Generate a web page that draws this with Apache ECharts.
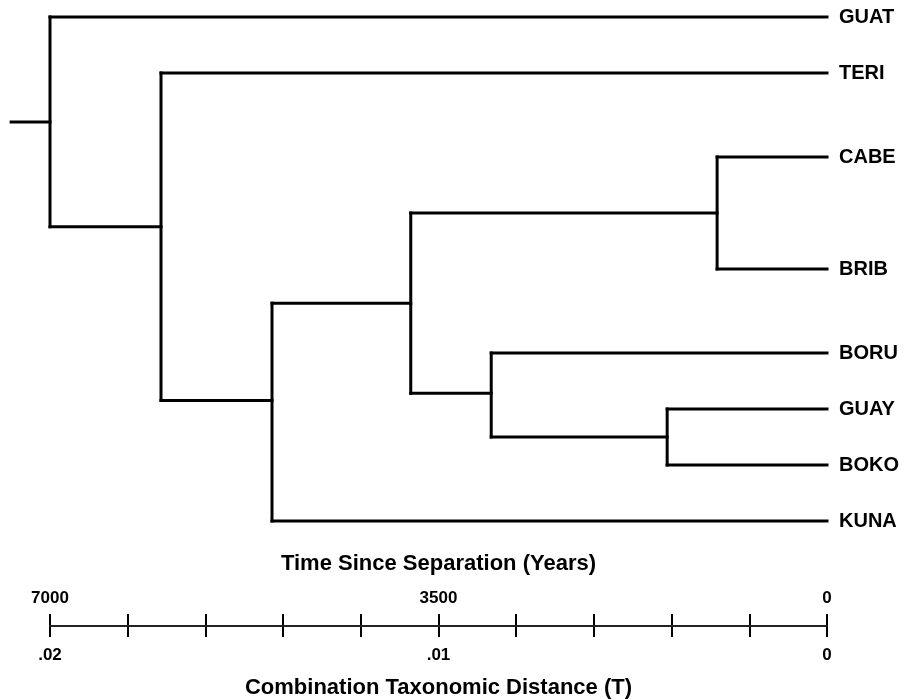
<!DOCTYPE html>
<html>
<head>
<meta charset="utf-8">
<script src="https://cdn.jsdelivr.net/npm/echarts@6/dist/echarts.min.js"></script>
<style>
html, body { margin: 0; background: #fff; }
#chart { width: 905px; height: 700px; }
</style>
</head>
<body>
<div id="chart"></div>
<script>
// leaves (tips sit at 0 years)
var leafNames = ['GUAT', 'TERI', 'CABE', 'BRIB', 'BORU', 'GUAY', 'BOKO', 'KUNA'];
var leafRows = [0, 1, 2.5, 4.5, 6, 7, 8, 9];

// internal nodes: age in years since separation, row, children
var nodeNames = ['root', 'n1', 'n2', 'n3', 'n4', 'n5', 'n6'];
var nodeAges = [7000, 6000, 5000, 3750, 990, 3025, 1440];
var nodeRows = [1.875, 3.745, 6.85, 5.11, 3.5, 6.72, 7.5];
var nodeChildren = [
    ['GUAT', 'n1'],
    ['TERI', 'n2'],
    ['n3', 'KUNA'],
    ['n4', 'n5'],
    ['CABE', 'BRIB'],
    ['BORU', 'n6'],
    ['GUAY', 'BOKO']
];
var rootStubAge = 7350;

// scale bar
var yearMax = 7000;
var yearTickStep = 700;
var yearLabelStep = 3500;
var distMax = 0.02;
var distLabelStep = 0.01;

var FONT = "'Liberation Sans', Arial, Helvetica, sans-serif";
var INK = '#000';

function position(name) {
    var i = leafNames.indexOf(name);
    if (i >= 0) {
        return [0, leafRows[i]];
    }
    i = nodeNames.indexOf(name);
    return [nodeAges[i], nodeRows[i]];
}

// branch segments [x1, y1, x2, y2]
var segments = [[rootStubAge, nodeRows[0], nodeAges[0], nodeRows[0]]];
for (var i = 0; i < nodeNames.length; i++) {
    var age = nodeAges[i];
    var rows = [];
    for (var j = 0; j < nodeChildren[i].length; j++) {
        var c = position(nodeChildren[i][j]);
        rows.push(c[1]);
        segments.push([age, c[1], c[0], c[1]]);
    }
    segments.push([age, Math.min.apply(null, rows), age, Math.max.apply(null, rows)]);
}

var leafPoints = [];
for (var k = 0; k < leafNames.length; k++) {
    leafPoints.push([0, leafRows[k], leafNames[k]]);
}

var chart = echarts.init(document.getElementById('chart'));

var options = {
    animation: false,
    backgroundColor: '#fff',
    grid: [
        { left: 50, right: 78, top: 17, height: 504 },
        { left: 50, right: 78, top: 614, height: 23 }
    ],
    xAxis: [
        {
            gridIndex: 0,
            type: 'value',
            min: 0,
            max: yearMax,
            inverse: true,
            show: false
        },
        {
            gridIndex: 1,
            type: 'value',
            position: 'top',
            min: 0,
            max: yearMax,
            interval: yearLabelStep,
            inverse: true,
            axisLine: { show: false, onZero: false },
            axisTick: { show: false },
            splitLine: { show: false },
            axisLabel: {
                margin: 7,
                color: INK,
                fontFamily: FONT,
                fontWeight: 'bold',
                fontSize: 17,
                formatter: function (v) { return String(v); }
            },
            name: 'Time Since Separation (Years)',
            nameLocation: 'middle',
            nameGap: 39,
            nameTextStyle: {
                color: INK,
                fontFamily: FONT,
                fontWeight: 'bold',
                fontSize: 22
            }
        },
        {
            gridIndex: 1,
            type: 'value',
            position: 'bottom',
            min: 0,
            max: yearMax,
            interval: yearTickStep,
            inverse: true,
            axisLine: { show: true, onZero: true, lineStyle: { color: '#222', width: 2 } },
            axisTick: { show: false },
            axisLabel: { show: false },
            splitLine: { show: true, lineStyle: { color: INK, width: 2 } }
        },
        {
            gridIndex: 1,
            type: 'value',
            position: 'bottom',
            min: 0,
            max: distMax,
            interval: distLabelStep,
            inverse: true,
            axisLine: { show: false, onZero: false },
            axisTick: { show: false },
            splitLine: { show: false },
            axisLabel: {
                margin: 10,
                color: INK,
                fontFamily: FONT,
                fontWeight: 'bold',
                fontSize: 17,
                formatter: function (v) {
                    return v === 0 ? '0' : String(+v.toFixed(4)).replace(/^0/, '');
                }
            },
            name: 'Combination Taxonomic Distance (T)',
            nameLocation: 'middle',
            nameGap: 40,
            nameTextStyle: {
                color: INK,
                fontFamily: FONT,
                fontWeight: 'bold',
                fontSize: 22
            }
        }
    ],
    yAxis: [
        { gridIndex: 0, type: 'value', min: 0, max: 9, inverse: true, show: false },
        { gridIndex: 1, type: 'value', min: -1, max: 1, show: false }
    ],
    series: [
        {
            type: 'custom',
            xAxisIndex: 0,
            yAxisIndex: 0,
            clip: false,
            encode: { x: [0, 2], y: [1, 3] },
            data: segments,
            renderItem: function (params, api) {
                var p1 = api.coord([api.value(0), api.value(1)]);
                var p2 = api.coord([api.value(2), api.value(3)]);
                return {
                    type: 'line',
                    shape: { x1: p1[0], y1: p1[1], x2: p2[0], y2: p2[1] },
                    style: { stroke: INK, lineWidth: 3, lineCap: 'square' }
                };
            }
        },
        {
            type: 'scatter',
            xAxisIndex: 0,
            yAxisIndex: 0,
            symbolSize: 0,
            itemStyle: { color: INK, opacity: 1 },
            data: leafPoints,
            label: {
                show: true,
                position: 'right',
                distance: 12,
                color: INK,
                opacity: 1,
                fontFamily: FONT,
                fontWeight: 'bold',
                fontSize: 20,
                formatter: function (p) { return p.value[2]; }
            }
        }
    ]
};

chart.setOption(options);
</script>
</body>
</html>
